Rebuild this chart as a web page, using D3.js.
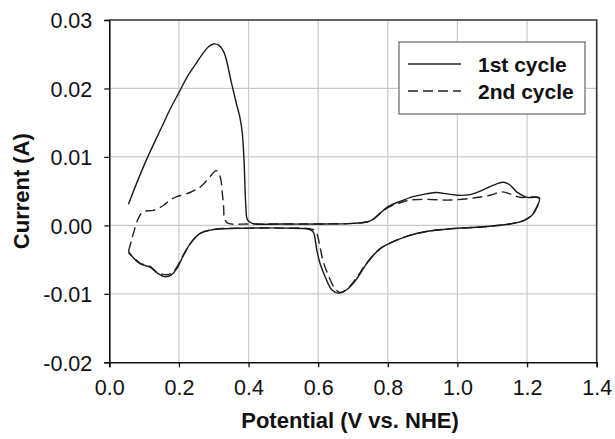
<!DOCTYPE html>
<html>
<head>
<meta charset="utf-8">
<script src="https://cdn.jsdelivr.net/npm/d3@7"></script>
<style>
  html, body { margin: 0; padding: 0; background: #fff; }
  svg { display: block; }
  text { font-family: "Liberation Sans", Arial, Helvetica, sans-serif; fill: #111; }
</style>
</head>
<body>
<svg id="chart" width="615" height="439"></svg>
<script>
// Cyclic voltammogram: potential (V vs. NHE) and current (A)
const xTicks = [0.0, 0.2, 0.4, 0.6, 0.8, 1.0, 1.2, 1.4];
const yTicks = [-0.02, -0.01, 0.00, 0.01, 0.02, 0.03];
const seriesNames = ["1st cycle", "2nd cycle"];

// 1st cycle: anodic sweep from 0.055 V to 1.235 V, then the cathodic return
const cycle1Potential = [
  0.055, 0.10, 0.15, 0.175, 0.20, 0.225, 0.25, 0.27, 0.285, 0.30, 0.315, 0.33, 0.35, 0.365, 0.375, 0.382, 0.387, 0.392, 0.397, 0.41,
  0.50, 0.60, 0.70, 0.74, 0.755, 0.778, 0.80, 0.835, 0.873, 0.91, 0.94, 0.97, 1.00, 1.036, 1.074, 1.11, 1.133,
  1.151, 1.17, 1.20, 1.235,
  1.228, 1.213, 1.19, 1.15, 1.074, 0.98, 0.91, 0.854, 0.806, 0.778, 0.739, 0.711, 0.682, 0.658, 0.639, 0.62,
  0.605, 0.596, 0.586, 0.576, 0.50, 0.40, 0.30, 0.26, 0.232, 0.213, 0.194, 0.179, 0.16, 0.136, 0.117, 0.088,
  0.07, 0.055
];
const cycle1Current = [
  0.0031, 0.0088, 0.0143, 0.0170, 0.0194, 0.0218, 0.0237, 0.0252, 0.0261, 0.0265, 0.0263, 0.0252, 0.0210, 0.0178, 0.0158, 0.0135, 0.0095, 0.0030, 0.0008, 0.0003,
  0.0002, 0.0002, 0.0003, 0.0005, 0.0008, 0.0018, 0.0027, 0.0035, 0.0042, 0.0046, 0.0048, 0.0046, 0.0044, 0.0045, 0.0052, 0.0060, 0.0063,
  0.0059, 0.0049, 0.0041, 0.0040,
  0.0026, 0.0014, 0.0007, 0.0002, -0.0002, -0.0005, -0.0009, -0.0016, -0.0026, -0.0034, -0.0056, -0.0078, -0.0094, -0.0099, -0.0094, -0.0075,
  -0.0055, -0.0036, -0.0010, -0.0006, -0.0004, -0.0004, -0.0006, -0.0012, -0.0027, -0.0044, -0.0063, -0.0072, -0.0075, -0.0069, -0.0061, -0.0056,
  -0.0048, -0.0038
];

// 2nd cycle
const cycle2Potential = [
  0.055, 0.062, 0.069, 0.0815, 0.093, 0.105, 0.127, 0.155, 0.175, 0.194, 0.232, 0.255, 0.27, 0.289, 0.3065, 0.313,
  0.32, 0.324, 0.328, 0.332, 0.342, 0.40, 0.50, 0.60, 0.70, 0.74, 0.755, 0.778, 0.80, 0.835, 0.864, 0.91, 0.978,
  1.046, 1.094, 1.127, 1.151, 1.18, 1.235,
  1.228, 1.213, 1.19, 1.15, 1.074, 0.98, 0.91, 0.854, 0.806, 0.778, 0.739, 0.711, 0.685, 0.663, 0.648, 0.63,
  0.614, 0.604, 0.596, 0.585, 0.50, 0.40, 0.30, 0.26, 0.232, 0.213, 0.194, 0.179, 0.16, 0.136, 0.117, 0.088,
  0.07, 0.055
];
const cycle2Current = [
  -0.0038, -0.0025, -0.0012, 0.0008, 0.0018, 0.0021, 0.0022, 0.0029, 0.0037, 0.0042, 0.0048, 0.0054, 0.0060, 0.0071, 0.0080, 0.0077,
  0.0068, 0.0050, 0.0030, 0.0008, 0.0003, 0.0002, 0.0002, 0.0002, 0.0003, 0.0005, 0.0008, 0.0017, 0.0026, 0.0033, 0.0037, 0.0038, 0.0037,
  0.0040, 0.0044, 0.0049, 0.0046, 0.0041, 0.0040,
  0.0027, 0.0015, 0.0007, 0.0002, -0.0002, -0.0005, -0.0009, -0.0016, -0.0026, -0.0034, -0.0055, -0.0076, -0.0092, -0.0098, -0.0092, -0.0074,
  -0.0052, -0.0028, -0.0012, -0.0006, -0.0004, -0.0004, -0.0006, -0.0012, -0.0027, -0.0043, -0.0061, -0.0070, -0.0072, -0.0068, -0.0060, -0.0055,
  -0.0047, -0.0040
];

const svg = d3.select("#chart");
const W = 615, H = 439;
const margin = { left: 109.3, right: W - 596.7, top: 20, bottom: H - 362.3 };

const x = d3.scaleLinear().domain([0, 1.4]).range([margin.left, W - margin.right]);
const y = d3.scaleLinear().domain([-0.02, 0.03]).range([H - margin.bottom, margin.top]);

// grid
const grid = svg.append("g").attr("stroke", "#c9c9c9").attr("stroke-width", 1.2);
grid.selectAll("line.vx").data(xTicks.slice(1, -1)).join("line")
  .attr("x1", d => x(d)).attr("x2", d => x(d))
  .attr("y1", y(-0.02)).attr("y2", y(0.03));
grid.selectAll("line.hy").data(yTicks.slice(1, -1)).join("line")
  .attr("x1", x(0)).attr("x2", x(1.4))
  .attr("y1", d => y(d)).attr("y2", d => y(d));

// frame (top and right)
svg.append("path")
  .attr("d", `M${x(0)},${y(0.03)}H${x(1.4)}V${y(-0.02)}`)
  .attr("fill", "none").attr("stroke", "#333").attr("stroke-width", 1.6);

// axes
const fmtY = d => d3.format(".2f")(d).replace("−", "-");
const xAxis = d3.axisBottom(x).tickValues(xTicks).tickFormat(d3.format(".1f")).tickSizeOuter(0).tickSize(5).tickPadding(12);
const yAxis = d3.axisLeft(y).tickValues(yTicks).tickFormat(fmtY).tickSizeOuter(0).tickSize(5).tickPadding(12);

const gx = svg.append("g").attr("transform", `translate(0,${y(-0.02)})`).call(xAxis);
const gy = svg.append("g").attr("transform", `translate(${x(0)},0)`).call(yAxis);
[gx, gy].forEach(g => {
  g.select(".domain").attr("stroke", "#111").attr("stroke-width", 1.6);
  g.selectAll(".tick line").attr("stroke", "#111").attr("stroke-width", 1.3);
  g.selectAll(".tick text").attr("font-size", 21.5).attr("fill", "#111")
    .style("font-family", '"Liberation Sans", Arial, sans-serif');
});
gy.selectAll(".tick text").attr("dy", "0.36em");

// axis titles
svg.append("text")
  .attr("x", (x(0) + x(1.4)) / 2 - 3).attr("y", 428)
  .attr("text-anchor", "middle").attr("font-size", 22).attr("font-weight", "bold")
  .text("Potential (V vs. NHE)");
svg.append("text")
  .attr("transform", `translate(29,${(y(0.03) + y(-0.02)) / 2}) rotate(-90)`)
  .attr("text-anchor", "middle").attr("font-size", 22).attr("font-weight", "bold")
  .text("Current (A)");

// curves
const line = d3.line().x(d => x(d[0])).y(d => y(d[1])).curve(d3.curveCatmullRom.alpha(0.5));
const c1 = cycle1Potential.map((v, i) => [v, cycle1Current[i]]);
const c2 = cycle2Potential.map((v, i) => [v, cycle2Current[i]]);

svg.append("path").datum(c2).attr("d", line)
  .attr("fill", "none").attr("stroke", "#222").attr("stroke-width", 1.4)
  .attr("stroke-dasharray", "10,5");
svg.append("path").datum(c1).attr("d", line)
  .attr("fill", "none").attr("stroke", "#1a1a1a").attr("stroke-width", 1.4);

// legend
const lg = svg.append("g");
lg.append("rect").attr("x", 399).attr("y", 42).attr("width", 186).attr("height", 72)
  .attr("fill", "#fff").attr("stroke", "#666").attr("stroke-width", 1.2);
const dashes = [null, "10,5"];
seriesNames.forEach((name, i) => {
  const ly = 64 + i * 27;
  lg.append("line").attr("x1", 408).attr("x2", 461).attr("y1", ly).attr("y2", ly)
    .attr("stroke", "#222").attr("stroke-width", 1.4)
    .attr("stroke-dasharray", dashes[i]);
  lg.append("text").attr("x", 478).attr("y", ly + 8)
    .attr("font-size", 21).attr("font-weight", "bold").text(name);
});
</script>
</body>
</html>
